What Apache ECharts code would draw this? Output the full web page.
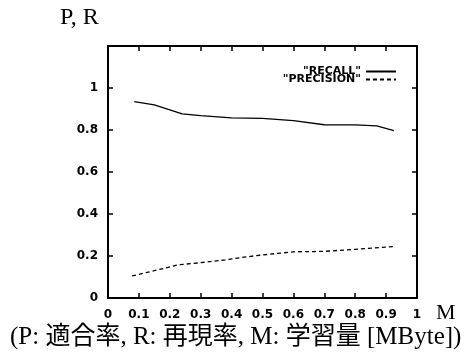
<!DOCTYPE html>
<html>
<head>
<meta charset="utf-8">
<script src="https://cdn.jsdelivr.net/npm/echarts@6/dist/echarts.min.js"></script>
<style>
  html, body { margin: 0; padding: 0; background: #fff; }
  #chart { width: 465px; height: 358px; }
</style>
</head>
<body>
<div id="chart"></div>
<script>
// 学習量 M [MByte]
var recallM = [0.085, 0.15, 0.24, 0.3, 0.4, 0.5, 0.6, 0.7, 0.8, 0.87, 0.925];
var recall = [0.935, 0.92, 0.877, 0.868, 0.858, 0.855, 0.845, 0.825, 0.824, 0.82, 0.797];
var precisionM = [0.078, 0.15, 0.227, 0.3, 0.38, 0.47, 0.54, 0.6, 0.7, 0.8, 0.93];
var precision = [0.105, 0.13, 0.158, 0.168, 0.182, 0.2, 0.211, 0.22, 0.222, 0.232, 0.246];
var seriesNames = ['"RECALL"', '"PRECISION"'];

function pairs(xs, ys) {
  return xs.map(function (x, i) { return [x, ys[i]]; });
}

var chart = echarts.init(document.getElementById("chart"));

var labelFont = {
  color: "#000",
  fontFamily: "DejaVu Sans",
  fontWeight: "bold",
  fontSize: 12
};
var tick = { show: true, inside: true, length: 5, lineStyle: { color: "#000", width: 1.5 } };
var line = { show: true, onZero: false, lineStyle: { color: "#000", width: 2 } };
var fmt = function (v) { return String(Math.round(v * 10) / 10); };

var option = {
  animation: false,
  backgroundColor: "#fff",
  grid: {
    left: 108,
    right: 48,
    top: 46,
    bottom: 60,
    show: true,
    backgroundColor: "transparent",
    borderColor: "#000",
    borderWidth: 2
  },
  legend: {
    data: seriesNames,
    orient: "vertical",
    right: 63,
    top: 61,
    align: "right",
    itemWidth: 30,
    itemHeight: 8,
    itemGap: -3,
    itemStyle: { opacity: 0 },
    textStyle: {
      color: "#000",
      fontFamily: "DejaVu Sans",
      fontWeight: "bold",
      fontSize: 11
    }
  },
  xAxis: [
    {
      type: "value",
      position: "bottom",
      min: 0,
      max: 1,
      interval: 0.1,
      splitLine: { show: false },
      axisLine: line,
      axisTick: tick,
      axisLabel: Object.assign({ margin: 11, formatter: fmt }, labelFont)
    },
    {
      type: "value",
      position: "top",
      min: 0,
      max: 1,
      interval: 0.1,
      splitLine: { show: false },
      axisLine: line,
      axisTick: tick,
      axisLabel: { show: false }
    }
  ],
  yAxis: [
    {
      type: "value",
      position: "left",
      min: 0,
      max: 1.2,
      interval: 0.2,
      splitLine: { show: false },
      axisLine: line,
      axisTick: tick,
      axisLabel: Object.assign({
        margin: 10,
        formatter: function (v) { return v > 1.1 ? "" : fmt(v); }
      }, labelFont)
    },
    {
      type: "value",
      position: "right",
      min: 0,
      max: 1.2,
      interval: 0.2,
      splitLine: { show: false },
      axisLine: line,
      axisTick: tick,
      axisLabel: { show: false }
    }
  ],
  graphic: [
    {
      type: "text",
      left: 60,
      top: 6,
      style: { text: "P, R", fill: "#000", font: "24px 'Liberation Serif'" }
    },
    {
      type: "text",
      left: 436,
      top: 302,
      style: { text: "M", fill: "#000", font: "22px 'Liberation Serif'" }
    },
    {
      type: "text",
      left: 10,
      top: 325,
      style: {
        text: "(P: 適合率, R: 再現率, M: 学習量 [MByte])",
        fill: "#000",
        font: "25px 'Liberation Serif', 'Noto Sans CJK JP'"
      }
    }
  ],
  series: [
    {
      name: seriesNames[0],
      type: "line",
      showSymbol: false,
      symbol: "none",
      data: pairs(recallM, recall),
      lineStyle: { color: "#000", width: 1.3, type: "solid" },
      itemStyle: { color: "#000" }
    },
    {
      name: seriesNames[1],
      type: "line",
      showSymbol: false,
      symbol: "none",
      data: pairs(precisionM, precision),
      lineStyle: { color: "#000", width: 1.3, type: [4, 3] },
      itemStyle: { color: "#000" }
    },
    {
      // empty series so the mirrored top/right axes (inner ticks) get drawn
      name: "frame",
      type: "line",
      xAxisIndex: 1,
      yAxisIndex: 1,
      showSymbol: false,
      data: []
    }
  ]
};

chart.setOption(option);
</script>
</body>
</html>
